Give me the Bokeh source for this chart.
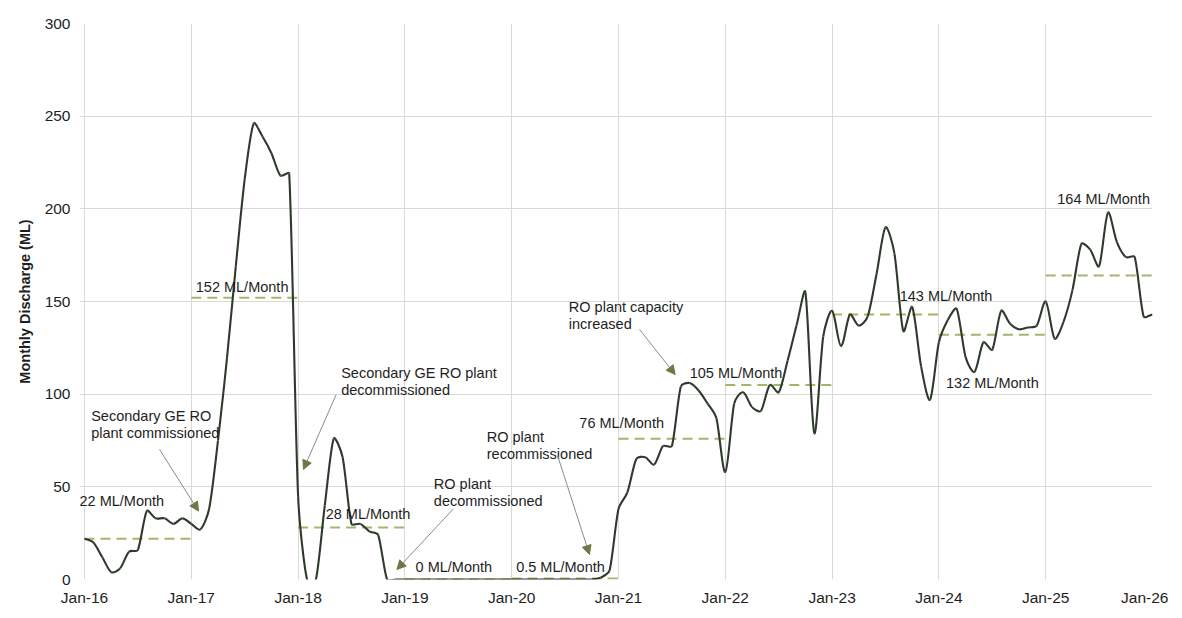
import math
from bokeh.plotting import figure
from bokeh.models import Label, Arrow, NormalHead, FixedTicker, Range1d
from bokeh.embed import file_html
from bokeh.resources import INLINE

# ---------------- data ----------------
YEARS = [2016, 2017, 2018, 2019, 2020, 2021, 2022, 2023, 2024, 2025]
TICK_LABELS = ["Jan-16", "Jan-17", "Jan-18", "Jan-19", "Jan-20", "Jan-21",
               "Jan-22", "Jan-23", "Jan-24", "Jan-25", "Jan-26"]

D2016 = [22, 20, 12, 4, 6, 15, 16, 37, 33, 33, 30, 33]
D2017 = [30, 27, 38, 75, 119, 169, 216, 246, 239, 230, 218, 219]
D2018 = [45, 0, 0, 40, 76, 66, 30, 30, 26, 24, 0, 0]
D2019 = [0, 0, 0, 0, 0, 0, 0, 0, 0, 0, 0, 0]
D2020 = [0, 0, 0, 0, 0, 0, 0, 0, 0, 0, 1, 5]
D2021 = [38, 47, 65, 66, 62, 72, 72, 104, 106, 102, 95, 87]
D2022 = [58, 95, 101, 93, 91, 105, 101, 118, 137, 155, 79, 131]
D2023 = [145, 126, 143, 137, 142, 165, 190, 176, 134, 147, 115, 97]
D2024 = [128, 140, 146, 120, 112, 128, 124, 145, 138, 135, 136, 137]
D2025 = [150, 130, 139, 156, 181, 178, 169, 198, 182, 174, 174, 142]
D2026 = [143]

ANNUAL_AVG = [22, 152, 28, 0, 0.5, 76, 105, 143, 132, 164]
AVG_LABELS = ["22 ML/Month", "152 ML/Month", "28 ML/Month", "0 ML/Month",
              "0.5 ML/Month", "76 ML/Month", "105 ML/Month", "143 ML/Month",
              "132 ML/Month", "164 ML/Month"]

NOTES = ["Secondary GE RO\nplant commissioned",
         "Secondary GE RO plant\ndecommissioned",
         "RO plant\ndecommissioned",
         "RO plant\nrecommissioned",
         "RO plant capacity\nincreased"]

# ---------------- layout (positions in data units: month index, ML) ----------------
X_START = -0.562   # horizontal gridlines reach a little left of Jan-16
AVG_LABEL_POS = [(-0.56, 42.1), (12.5, 158.0), (27.1, 35.6), (37.2, 6.5), (48.5, 6.5),
                 (55.6, 84.2), (68.0, 111.2), (91.6, 152.9), (96.8, 105.8), (109.3, 205.4)]
NOTE_POS = [(0.75, 92.3), (28.84, 115.5), (39.25, 55.6), (45.2, 81.2), (54.42, 151.1)]
ARROWS = [((8.43, 70.2), (12.81, 36.9)),
          ((28.28, 99.8), (24.6, 59.4)),
          ((41.46, 38.2), (35.1, 5.4)),
          ((53.18, 66.5), (56.74, 13.5)),
          ((62.36, 134.9), (66.37, 110.6))]

FONT = "Liberation Sans"
LINE_COLOR = "#2E3B2C"
AVG_COLOR = "#A6B46E"
TEXT_COLOR = "#1E1E1E"

FRAME_W, FRAME_H = 1073, 556
B_LEFT, B_TOP, B_RIGHT, B_BOTTOM = 79, 23, 16, 33

values = D2016 + D2017 + D2018 + D2019 + D2020 + D2021 + D2022 + D2023 + D2024 + D2025 + D2026
xs = list(range(len(values)))

p = figure(width=B_LEFT + FRAME_W + B_RIGHT, height=B_TOP + FRAME_H + B_BOTTOM,
           output_backend="svg", toolbar_location=None,
           x_range=Range1d(X_START, 120), y_range=Range1d(0, 300),
           min_border_left=B_LEFT, min_border_right=B_RIGHT,
           min_border_top=B_TOP, min_border_bottom=B_BOTTOM)
p.background_fill_color = "white"
p.border_fill_color = "white"
p.outline_line_color = None

# grid
p.xgrid.grid_line_color = "#D9D9D9"
p.ygrid.grid_line_color = "#D9D9D9"

# axes
p.xaxis.ticker = FixedTicker(ticks=[12 * i for i in range(len(TICK_LABELS))])
p.xaxis.major_label_overrides = {12 * i: lab for i, lab in enumerate(TICK_LABELS)}
p.yaxis.ticker = FixedTicker(ticks=[0, 50, 100, 150, 200, 250, 300])
for ax in (p.xaxis, p.yaxis):
    ax.axis_line_color = None
    ax.major_tick_line_color = None
    ax.minor_tick_line_color = None
    ax.major_tick_out = 0
    ax.major_tick_in = 0
    ax.minor_tick_out = 0
    ax.major_label_text_font = FONT
    ax.major_label_text_font_size = "15.5px"
    ax.major_label_text_color = TEXT_COLOR
p.xaxis.major_label_standoff = 9
p.yaxis.major_label_standoff = 9
p.yaxis.axis_label = "Monthly Discharge (ML)"
p.yaxis.axis_label_text_font = FONT
p.yaxis.axis_label_text_font_style = "bold"
p.yaxis.axis_label_text_font_size = "14.5px"
p.yaxis.axis_label_text_color = TEXT_COLOR
p.yaxis.axis_label_standoff = 9

# annual average dashed lines
for i, avg in enumerate(ANNUAL_AVG):
    p.line([12 * i, 12 * (i + 1)], [avg, avg], line_color=AVG_COLOR, line_width=2,
           line_dash="10 6")

# smoothed monthly line: cubic bezier between the monthly points
# (Catmull-Rom tangents, shortened on the side of a short chord, like Excel's smoothing)
SX = FRAME_W / (120 - X_START)
SY = FRAME_H / 300.0
n = len(values)


def chord(i, j):
    return math.hypot((xs[j] - xs[i]) * SX, (values[j] - values[i]) * SY)


out_c, in_c = [], []
for i in range(n):
    a = max(i - 1, 0)
    b = min(i + 1, n - 1)
    dx = (xs[b] - xs[a]) / 6.0
    dy = (values[b] - values[a]) / 6.0
    lp = chord(a, i) if i > 0 else chord(i, b)
    ln = chord(i, b) if i < n - 1 else chord(a, i)
    tot = lp + ln if lp + ln > 0 else 1.0
    fo = min(1.0, 2 * ln / tot)
    fi = min(1.0, 2 * lp / tot)
    out_c.append((xs[i] + dx * fo, values[i] + dy * fo))
    in_c.append((xs[i] - dx * fi, values[i] - dy * fi))

p.bezier(x0=xs[:-1], y0=values[:-1], x1=xs[1:], y1=values[1:],
         cx0=[c[0] for c in out_c[:-1]], cy0=[c[1] for c in out_c[:-1]],
         cx1=[c[0] for c in in_c[1:]], cy1=[c[1] for c in in_c[1:]],
         line_color=LINE_COLOR, line_width=2.1)

# average labels
for (lx, ly), txt in zip(AVG_LABEL_POS, AVG_LABELS):
    p.add_layout(Label(x=lx, y=ly, text=txt, text_font=FONT, text_font_size="14.5px",
                       text_color=TEXT_COLOR, text_baseline="middle", text_align="left"))

# notes with arrows
for (nx, ny), txt in zip(NOTE_POS, NOTES):
    p.add_layout(Label(x=nx, y=ny, text=txt, text_font=FONT, text_font_size="14.5px",
                       text_color=TEXT_COLOR, text_baseline="top", text_align="left",
                       text_line_height=1.05))
for (s, e) in ARROWS:
    p.add_layout(Arrow(x_start=s[0], y_start=s[1], x_end=e[0], y_end=e[1],
                       line_color="#8C8C8C", line_width=1,
                       end=NormalHead(size=9, fill_color="#6B7A45", line_color="#6B7A45",
                                      line_width=1)))

open("out.html", "w").write(file_html(p, INLINE))
